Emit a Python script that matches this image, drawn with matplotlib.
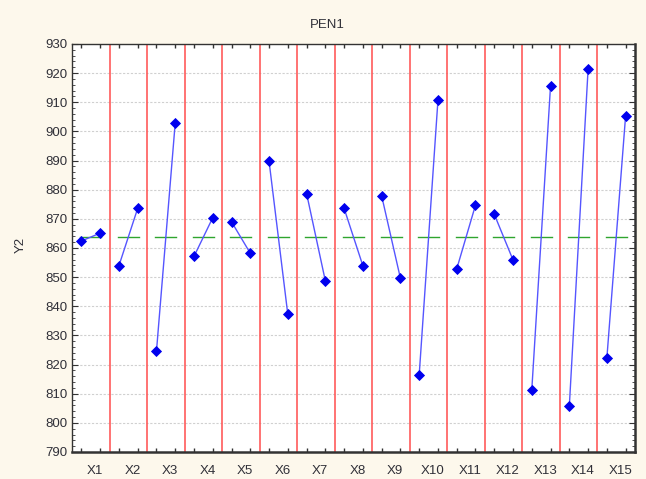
import numpy as np
import matplotlib.pyplot as plt
import matplotlib.transforms as mtransforms

plt.rcParams['font.family'] = ['Liberation Sans', 'DejaVu Sans']

# factor names and the mean response at the low / high level of each factor
factors = ['X1', 'X2', 'X3', 'X4', 'X5', 'X6', 'X7', 'X8',
           'X9', 'X10', 'X11', 'X12', 'X13', 'X14', 'X15']
low_level = [862.4, 853.9, 824.5, 857.1, 869.0, 889.8, 878.7, 873.6,
             877.9, 816.4, 852.8, 871.6, 811.3, 805.7, 822.2]
high_level = [865.1, 873.6, 902.9, 870.4, 858.2, 837.2, 848.7, 853.9,
              849.6, 910.7, 874.7, 855.9, 915.7, 921.3, 905.4]

bg = '#fdf8ec'
txt = '#303038'

fig = plt.figure(figsize=(6.46, 4.79), dpi=100, facecolor=bg)
ax = fig.add_axes([72/646, 1 - 452/479, (635 - 72)/646, (452 - 44)/479])
ax.set_facecolor('white')

n = len(factors)
centers = np.arange(1, n + 1)
grand_mean = np.mean(low_level + high_level)

ax.set_xlim(0.5, n + 0.5)
ax.set_ylim(790, 930)

# horizontal dotted grid
for yv in range(800, 930, 10):
    ax.axhline(yv, color='#d0d0d0', lw=0.8, ls=(0, (2, 1.5)), zorder=0)

# red separators between factors
for xv in centers[:-1] + 0.5:
    ax.axvline(xv, color='#ff5a5a', lw=1.4, alpha=0.85, zorder=1)

for i, c in enumerate(centers):
    ax.plot([c - 0.28, c + 0.28], [grand_mean, grand_mean], color='#2fa52f', lw=1.0, zorder=2)
    ax.plot([c - 0.25, c + 0.25], [low_level[i], high_level[i]], color='#5555ff', lw=1.0, zorder=3)
    ax.plot([c - 0.25, c + 0.25], [low_level[i], high_level[i]], 'D', color='#0000ee',
            markersize=5, markeredgewidth=0.6, zorder=4)

# axes frame and ticks
for side in ['left', 'right', 'top', 'bottom']:
    ax.spines[side].set_color('#333333')
    ax.spines[side].set_linewidth(1.0)
ax.spines['right'].set_linewidth(1.8)
ax.spines['bottom'].set_linewidth(1.8)

ax.set_yticks(np.arange(790, 931, 10))
ax.set_yticks(np.arange(790, 931, 2), minor=True)
ax.set_xticks(centers)
ax.set_xticklabels(factors)
ax.set_xticks(np.concatenate([centers - 0.25, centers + 0.25]), minor=True)

ax.tick_params(axis='y', which='both', direction='in', left=True, right=True,
               labelcolor=txt, labelsize=9.5, color='#333333')
ax.tick_params(axis='y', which='major', length=4)
ax.tick_params(axis='y', which='minor', length=2)
ax.tick_params(axis='x', which='major', length=0, pad=9, labelcolor=txt, labelsize=9.5)
ax.tick_params(axis='x', which='minor', direction='in', top=True, bottom=True,
               length=3, width=1.0, color='#333333')

offset = mtransforms.ScaledTranslation(3/72, 0, fig.dpi_scale_trans)
for lbl in ax.get_xticklabels():
    lbl.set_transform(lbl.get_transform() + offset)

fig.text(327/646, 1 - 25/479, 'PEN1', ha='center', va='center', fontsize=9.5, color=txt)
fig.text(21/646, 1 - 245/479, 'Y2', ha='center', va='center', rotation=90, fontsize=9.5, color=txt)

fig.savefig('out.png', dpi=100, facecolor=bg)
